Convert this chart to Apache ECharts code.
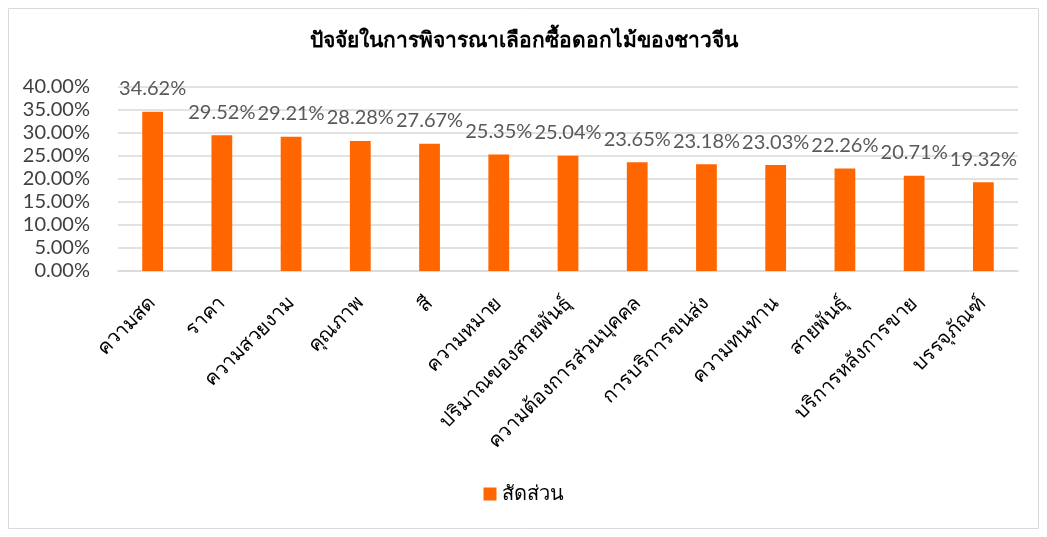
<!DOCTYPE html>
<html><head><meta charset="utf-8">
<script src="https://cdn.jsdelivr.net/npm/echarts@6/dist/echarts.min.js"></script>
<style>html,body{margin:0;padding:0;background:#fff}#c{width:1047px;height:537px}</style>
</head><body><div id="c"></div>
<script>
const title = 'ปัจจัยในการพิจารณาเลือกซื้อดอกไม้ของชาวจีน';
const categories = ['ความสด','ราคา','ความสวยงาม','คุณภาพ','สี','ความหมาย','ปริมาณของสายพันธุ์','ความต้องการส่วนบุคคล','การบริการขนส่ง','ความทนทาน','สายพันธุ์','บริการหลังการขาย','บรรจุภัณฑ์'];
const seriesName = 'สัดส่วน';
const values = [34.62,29.52,29.21,28.28,27.67,25.35,25.04,23.65,23.18,23.03,22.26,20.71,19.32];
const yTicks = [0,5,10,15,20,25,30,35,40];

const chart = echarts.init(document.getElementById('c'));
chart.setOption({
  animation:false,
  backgroundColor:'#fff',
  graphic:[{type:'rect',shape:{x:8.5,y:8.5,width:1030,height:520},style:{fill:'none',stroke:'#d9d9d9',lineWidth:1}}],
  title:{text:title,left:'center',top:26,textStyle:{fontSize:21,fontWeight:'bold',color:'#000',fontFamily:'Noto Sans, sans-serif'}},
  legend:{bottom:28,left:'center',itemWidth:13,itemHeight:13,itemGap:9,icon:'rect',textStyle:{fontSize:20,color:'#000',fontFamily:'Noto Sans, sans-serif'},data:[seriesName]},
  grid:{left:118,right:29,top:87,bottom:266,containLabel:false},
  xAxis:{type:'category',data:categories,
    axisLine:{lineStyle:{color:'#d9d9d9',width:1.5}},axisTick:{show:false},
    axisLabel:{rotate:45,interval:0,fontSize:20,color:'#000',margin:29,fontFamily:'Noto Sans, sans-serif'}},
  yAxis:{type:'value',min:0,max:40,interval:5,
    axisLine:{show:false},axisTick:{show:false},
    splitLine:{lineStyle:{color:'#d9d9d9',width:1.5}},
    axisLabel:{formatter:v=>v.toFixed(2)+'%',fontSize:20,color:'#404040',margin:28,fontFamily:'Lato, sans-serif'}},
  series:[{name:seriesName,type:'bar',data:values,barWidth:'30%',itemStyle:{color:'#ff6600'},
    label:{show:true,position:'top',distance:13,formatter:p=>p.value.toFixed(2)+'%',fontSize:20,color:'#595959',fontFamily:'Lato, sans-serif'}}]
});
</script></body></html>
